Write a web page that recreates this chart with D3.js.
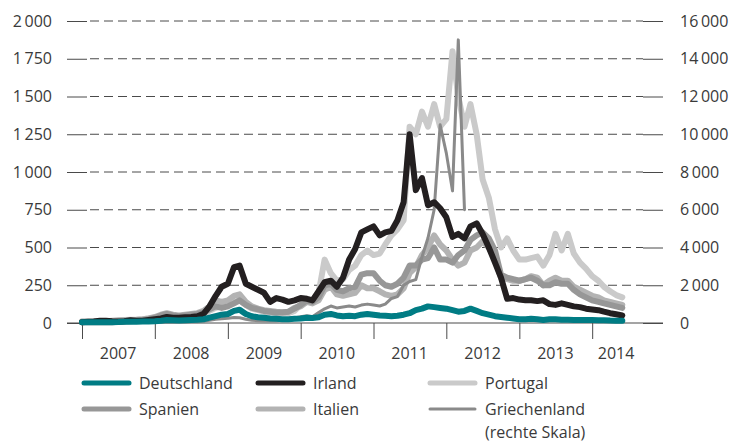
<!DOCTYPE html>
<html>
  <head>
    <meta charset="UTF-8">
    <title>Spreads 2007-2014</title>
    <script src="https://d3js.org/d3.v7.min.js"></script>
    <style>
      body { margin: 0; background: #fff; }
      text { font-family: "Open Sans", "Noto Sans", sans-serif; fill: #3a3a3a; }
    </style>
  </head>
  <body>
    <div id="chart"></div>
    <script>
      // Monatswerte, Januar 2007 bis Juni 2014
      const months = d3.timeMonths(new Date(2007, 0, 1), new Date(2014, 6, 1));

      const deutschland = [
        5, 5, 5, 5, 5, 5, 6, 8, 8, 8, 10, 10,
        12, 15, 20, 18, 16, 18, 20, 22, 25, 35, 45, 55,
        60, 80, 88, 60, 45, 38, 35, 30, 28, 25, 25, 28,
        30, 35, 33, 38, 55, 60, 50, 45, 48, 45, 55, 60,
        55, 50, 48, 45, 48, 55, 65, 85, 95, 110, 105, 100,
        95, 85, 75, 80, 95, 80, 65, 55, 45, 40, 35, 30,
        25, 25, 28, 25, 20, 25, 25, 22, 22, 20, 20, 20,
        20, 18, 18, 16, 15, 15
      ];
      const irland = [
        5, 8, 10, 15, 15, 12, 10, 12, 18, 15, 15, 20,
        25, 30, 40, 35, 35, 38, 40, 45, 60, 110, 180, 240,
        260, 370, 380, 260, 240, 220, 200, 140, 165, 155, 140, 150,
        165, 160, 150, 210, 270, 280, 240, 300, 420, 490, 600, 620,
        640, 580, 600, 610, 680, 800, 1250, 880, 960, 780, 800, 760,
        700, 570, 590, 560, 640, 660, 590, 500, 400, 300, 160, 165,
        155, 150, 150, 145, 150, 125, 120, 130, 120, 110, 105, 95,
        90, 85, 75, 65, 58, 50
      ];
      const portugal = [
        10, 10, 10, 12, 12, 12, 15, 20, 22, 22, 25, 30,
        35, 45, 55, 45, 40, 45, 50, 55, 60, 80, 100, 110,
        120, 140, 150, 120, 95, 85, 75, 70, 65, 65, 65, 80,
        120, 160, 150, 200, 420, 330, 280, 290, 350, 380, 450, 480,
        450, 460, 520, 580, 620, 680, 1300, 1250, 1400, 1300, 1450, 1300,
        1350, 1800, 1500, 1300, 1450, 1250, 950, 830, 620, 500, 560, 480,
        420, 420, 430, 440, 380, 450, 590, 480, 590, 460, 400, 360,
        310, 280, 240, 210, 185, 170
      ];
      const spanien = [
        5, 5, 5, 5, 5, 5, 8, 10, 12, 15, 18, 25,
        35, 50, 60, 50, 45, 50, 55, 60, 70, 90, 110, 100,
        110, 130, 150, 120, 100, 90, 80, 75, 70, 70, 75, 95,
        120, 150, 140, 170, 250, 260, 220, 210, 230, 240, 320, 330,
        330, 280, 250, 240, 260, 300, 380, 380, 420, 430, 500, 420,
        420, 400, 450, 480, 550, 580, 600, 560, 480, 320, 300, 290,
        280, 290, 300, 280, 250, 250, 270, 260, 260, 220, 190, 170,
        150, 140, 130, 120, 110, 100
      ];
      const italien = [
        10, 10, 10, 12, 12, 15, 18, 20, 20, 22, 25, 30,
        40, 55, 65, 55, 50, 55, 60, 65, 80, 110, 150, 140,
        150, 180, 190, 140, 110, 95, 85, 80, 75, 72, 75, 100,
        110, 140, 130, 150, 220, 240, 190, 180, 190, 200, 250, 230,
        230, 210, 190, 180, 190, 230, 330, 370, 450, 500, 580, 520,
        480, 420, 380, 400, 480, 500, 540, 500, 420, 300, 290, 280,
        280, 290, 310, 300, 250, 280, 300, 280, 280, 240, 220, 200,
        180, 170, 150, 140, 130, 120
      ];
      // Griechenland (rechte Skala), bis April 2012
      const griechenland = [
        10, 10, 10, 10, 10, 12, 15, 20, 20, 20, 20, 25,
        30, 40, 50, 45, 50, 55, 60, 70, 90, 150, 200, 230,
        250, 290, 280, 200, 150, 120, 110, 110, 110, 140, 200, 270,
        330, 380, 330, 550, 750, 900, 800, 850, 900, 850, 950, 1000,
        950, 900, 1000, 1300, 1400, 2000, 2200, 2300, 3500, 4500, 6000, 10500,
        9000, 7000, 15000, 6000
      ];

      const leftTicks = [0, 250, 500, 750, 1000, 1250, 1500, 1750, 2000];
      const rightTicks = [0, 2000, 4000, 6000, 8000, 10000, 12000, 14000, 16000];
      const years = [2007, 2008, 2009, 2010, 2011, 2012, 2013, 2014];

      const width = 734;
      const height = 441;

      const svg = d3.select("#chart")
        .append("svg")
        .attr("width", width)
        .attr("height", height);

      const x = d3.scaleTime()
        .domain([new Date(2007, 0, 1), new Date(2015, 0, 1)])
        .range([82, 665]);
      const yL = d3.scaleLinear().domain([0, 2000]).range([323, 21]);
      const yR = d3.scaleLinear().domain([0, 16000]).range([323, 21]);

      const fmt = d3.formatLocale({ decimal: ",", thousands: "\u2009", grouping: [3], currency: ["", ""] }).format(",");

      // gestrichelte Gitterlinien
      svg.append("g")
        .selectAll("line")
        .data(leftTicks.slice(1))
        .join("line")
        .attr("x1", 87)
        .attr("x2", 643)
        .attr("y1", d => yL(d))
        .attr("y2", d => yL(d))
        .attr("stroke", "#4a4a4a")
        .attr("stroke-width", 1)
        .attr("stroke-dasharray", "9,5")
        .attr("stroke-dashoffset", 11);

      // linke Achse
      const left = svg.append("g")
        .attr("transform", "translate(87,0)")
        .call(d3.axisLeft(yL).tickValues(leftTicks).tickSize(20).tickPadding(15).tickFormat(fmt));
      // rechte Achse
      const right = svg.append("g")
        .attr("transform", "translate(643,0)")
        .call(d3.axisRight(yR).tickValues(rightTicks).tickSize(20).tickPadding(17).tickFormat(fmt));
      [left, right].forEach(g => {
        g.select(".domain").remove();
        g.selectAll(".tick line").attr("stroke", "#4a4a4a");
        g.selectAll(".tick text").attr("font-size", 16).attr("fill", "#3a3a3a");
      });

      // x-Achse
      const xa = svg.append("g")
        .attr("transform", "translate(0,323)")
        .call(d3.axisBottom(x)
          .tickValues(years.map(y => new Date(y, 0, 1)))
          .tickSize(16)
          .tickFormat(""));
      xa.select(".domain").remove();
      xa.selectAll(".tick line").attr("stroke", "#4a4a4a");
      svg.append("line")
        .attr("x1", 67).attr("x2", 663)
        .attr("y1", yL(0)).attr("y2", yL(0))
        .attr("stroke", "#4a4a4a");

      svg.append("g")
        .selectAll("text")
        .data(years)
        .join("text")
        .attr("x", d => d === 2014 ? x(new Date(2014, 4, 1)) : x(new Date(d, 6, 1)))
        .attr("y", 359)
        .attr("text-anchor", "middle")
        .attr("font-size", 16)
        .text(d => d);

      // Linien
      const series = [
        { name: "Portugal", values: portugal, color: "#cacaca", w: 6, y: yL },
        { name: "Italien", values: italien, color: "#b3b3b3", w: 6, y: yL },
        { name: "Spanien", values: spanien, color: "#979797", w: 6, y: yL },
        { name: "Griechenland", values: griechenland, color: "#8a8a8a", w: 3, y: yR },
        { name: "Irland", values: irland, color: "#231f20", w: 6, y: yL },
        { name: "Deutschland", values: deutschland, color: "#007c84", w: 6, y: yL }
      ];

      series.forEach(s => {
        const line = d3.line()
          .x((d, i) => x(months[i]))
          .y(d => s.y(d));
        svg.append("path")
          .datum(s.values)
          .attr("d", line)
          .attr("fill", "none")
          .attr("stroke", s.color)
          .attr("stroke-width", s.w)
          .attr("stroke-linejoin", "round")
          .attr("stroke-linecap", "round");
      });

      // Legende
      const legend = [
        { label: ["Deutschland"], color: "#007c84", w: 5, col: 0, row: 0 },
        { label: ["Irland"], color: "#231f20", w: 5, col: 1, row: 0 },
        { label: ["Portugal"], color: "#cacaca", w: 5, col: 2, row: 0 },
        { label: ["Spanien"], color: "#979797", w: 5, col: 0, row: 1 },
        { label: ["Italien"], color: "#b3b3b3", w: 5, col: 1, row: 1 },
        { label: ["Griechenland", "(rechte Skala)"], color: "#8a8a8a", w: 3, col: 2, row: 1 }
      ];
      const colX = [82, 256, 428];
      const rowY = [383, 409];

      const li = svg.append("g")
        .selectAll("g")
        .data(legend)
        .join("g")
        .attr("transform", d => `translate(${colX[d.col]},${rowY[d.row]})`);
      li.append("line")
        .attr("x1", 2).attr("x2", 47)
        .attr("stroke", d => d.color)
        .attr("stroke-width", d => d.w)
        .attr("stroke-linecap", "round");
      li.each(function (d) {
        d.label.forEach((t, i) => {
          d3.select(this).append("text")
            .attr("x", 57)
            .attr("y", 5.5 + i * 23)
            .attr("font-size", 16)
            .text(t);
        });
      });
    </script>
  </body>
</html>
